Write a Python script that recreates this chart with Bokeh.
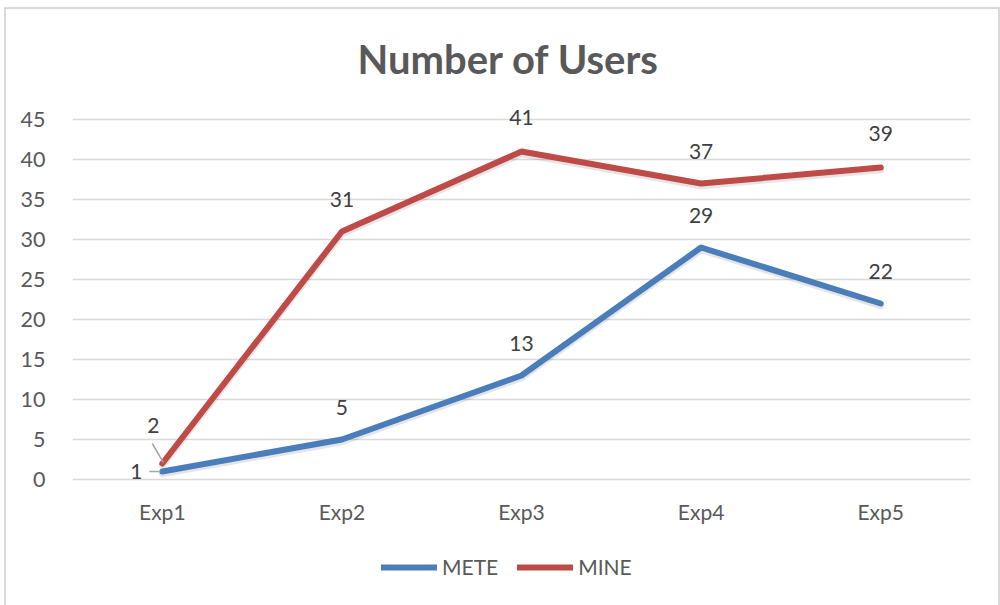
from bokeh.plotting import figure
from bokeh.models import (ColumnDataSource, LabelSet, Legend, LegendItem,
                          FixedTicker, Range1d, FactorRange)
from bokeh.embed import file_html
from bokeh.resources import INLINE
from bokeh.core.properties import value

# ---- data ----
categories = ["Exp1", "Exp2", "Exp3", "Exp4", "Exp5"]
mete = [1, 5, 13, 29, 22]
mine = [2, 31, 41, 37, 39]
y_ticks = [0, 5, 10, 15, 20, 25, 30, 35, 40, 45]
title_text = "Number of Users"

# label offsets (pixels) - styling only
mete_xoff = [-26, 0, 0, 0, 0]
mete_yoff = [0, 32, 32, 32, 32]
mine_xoff = [-9, 0, 0, 0, 0]
mine_yoff = [38, 32, 34, 32, 34]

FONT = "Lato"
TXT = "#595959"
DARK = "#404040"
BLUE = "#4A7EBB"
RED = "#BE4B48"
GRID = "#D9D9D9"

# page placement of the figure (shifted so its CSS outline acts as chart border)
OX, OY = 6, 9
W, H = 992, 596
PX_Y = 8.0                      # pixels per y unit
ZERO_Y = 479 - OY               # canvas y of value 0
L, R = 72 - OX, W - (970 - OX)

p = figure(width=W, height=H, x_range=FactorRange(*categories),
           y_range=Range1d(-(H - ZERO_Y) / PX_Y, ZERO_Y / PX_Y),
           output_backend="svg", toolbar_location=None,
           min_border_left=L, min_border_right=R, min_border_top=0,
           min_border_bottom=0)
p.title.visible = False
p.outline_line_color = None
p.background_fill_color = "white"
p.border_fill_color = "white"
p.styles = {"position": "relative", "left": f"{OX}px", "top": f"{OY}px",
            "outline": "2px solid #D9D9D9"}

# axes
p.xaxis.visible = False
p.yaxis.ticker = FixedTicker(ticks=y_ticks)
p.yaxis.axis_line_color = None
p.yaxis.major_tick_line_color = None
p.yaxis.minor_tick_line_color = None
p.yaxis.major_label_standoff = 21
p.yaxis.major_label_text_font = FONT
p.yaxis.major_label_text_font_size = "21.5px"
p.yaxis.major_label_text_color = TXT

p.xgrid.grid_line_color = None
p.ygrid.ticker = FixedTicker(ticks=y_ticks)
p.ygrid.grid_line_color = GRID
p.ygrid.grid_line_width = 1.5

# category labels under the zero line
cat_src = ColumnDataSource(dict(x=categories, y=[0] * len(categories), t=categories))
p.add_layout(LabelSet(x="x", y="y", text="t", source=cat_src, y_offset=-40,
                      text_align="center", text_baseline="alphabetic",
                      text_font=value(FONT), text_font_size="21px", text_color=TXT))

# soft shadows under the lines (same data, nudged down slightly)
SH = 2.2 / PX_Y
p.line(categories, [v - SH for v in mete], line_width=7, line_color="black",
       line_alpha=0.10, line_cap="round", line_join="round")
p.line(categories, [v - SH for v in mine], line_width=7, line_color="black",
       line_alpha=0.10, line_cap="round", line_join="round")

# lines
r1 = p.line(categories, mete, line_width=6, line_color=BLUE,
            line_cap="round", line_join="round")
r2 = p.line(categories, mine, line_width=6, line_color=RED,
            line_cap="round", line_join="round")

# leader lines for the first data labels (pixel offsets converted to data units)
px_x = (W - L - R) / len(categories)
p.segment(x0=[0.5 - 13 / px_x], y0=[mete[0]], x1=[0.5 - 2 / px_x], y1=[mete[0]],
          line_color="#A6A6A6", line_width=1.5)
p.segment(x0=[0.5 - 10 / px_x], y0=[mine[0] + 20 / PX_Y], x1=[0.5 + 1 / px_x],
          y1=[mine[0] + 1 / PX_Y], line_color="#A6A6A6", line_width=1.5)

# data labels
src1 = ColumnDataSource(dict(x=categories, y=mete, t=[str(v) for v in mete],
                             xo=mete_xoff, yo=mete_yoff))
src2 = ColumnDataSource(dict(x=categories, y=mine, t=[str(v) for v in mine],
                             xo=mine_xoff, yo=mine_yoff))
for src in (src1, src2):
    p.add_layout(LabelSet(x="x", y="y", text="t", source=src, x_offset="xo",
                          y_offset="yo", text_align="center", text_baseline="middle",
                          text_font=value(FONT), text_font_size="21px",
                          text_color=DARK))

# title
p.text(x=[categories[2]], y=[(479 - 58) / PX_Y], text=[title_text], x_offset=-13,
       text_align="center", text_baseline="middle", text_font=value(FONT),
       text_font_size="40px", text_font_style="bold", text_color=TXT)

# legend inside the (full-height) frame, near the bottom
legend = Legend(items=[LegendItem(label="METE", renderers=[r1]),
                       LegendItem(label="MINE", renderers=[r2])],
                orientation="horizontal", location=(378 - 72 + 3, 605 - 567 - 12),
                glyph_width=56, glyph_height=24, label_standoff=5, spacing=19,
                padding=0, margin=0, border_line_color=None,
                background_fill_alpha=0, label_text_font=FONT,
                label_text_font_size="21px", label_text_color=TXT,
                label_text_baseline="middle")
p.add_layout(legend)

open("out.html", "w").write(file_html(p, INLINE))
